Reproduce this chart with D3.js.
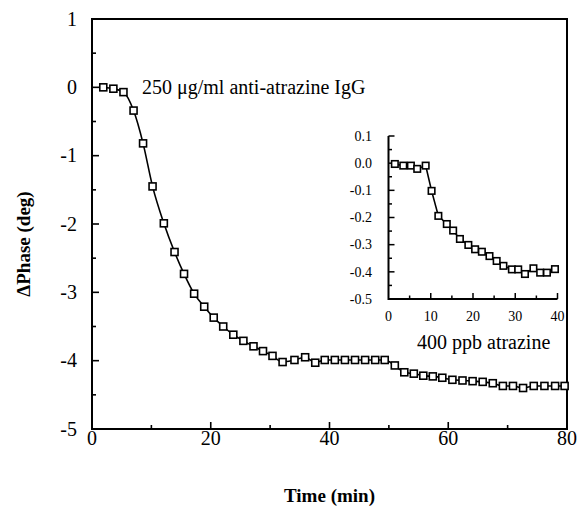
<!DOCTYPE html>
<html>
<head>
<meta charset="utf-8">
<script src="https://cdn.jsdelivr.net/npm/d3@7"></script>
<style>
  html, body { margin: 0; padding: 0; background: #fff; }
  svg { display: block; }
  text { font-family: "Liberation Serif", "Times New Roman", serif; fill: #000; }
</style>
</head>
<body>
<svg id="chart" width="586" height="506"></svg>
<script>
// Main series: time (min) and phase change (deg)
const mainTime = [1.9, 3.6, 5.3, 7.0, 8.6, 10.2, 12.1, 13.9, 15.5, 17.2, 18.9, 20.5, 22.1, 23.8, 25.5, 27.2, 28.8, 30.4, 32.1, 34.1, 35.9, 37.6, 39.2, 40.9, 42.6, 44.3, 46.0, 47.7, 49.3, 51.0, 52.6, 54.2, 55.8, 57.4, 59.0, 60.7, 62.4, 64.1, 65.8, 67.5, 69.2, 70.9, 72.6, 74.4, 76.2, 78.0, 79.6];
const mainPhase = [0.00, -0.02, -0.07, -0.34, -0.82, -1.45, -1.99, -2.41, -2.73, -3.02, -3.21, -3.37, -3.50, -3.62, -3.71, -3.79, -3.86, -3.93, -4.02, -3.99, -3.95, -4.03, -3.99, -3.99, -3.99, -3.99, -3.99, -3.99, -3.99, -4.07, -4.17, -4.19, -4.22, -4.23, -4.25, -4.28, -4.29, -4.30, -4.31, -4.33, -4.37, -4.37, -4.40, -4.37, -4.37, -4.37, -4.37];

// Inset series
const insetTime = [1.5, 3.5, 5.3, 6.8, 8.8, 10.2, 11.8, 13.8, 15.3, 16.9, 18.9, 20.5, 22.1, 23.9, 25.6, 27.2, 29.2, 30.7, 32.3, 34.3, 35.9, 37.5, 39.4];
const insetPhase = [-0.003, -0.009, -0.009, -0.021, -0.009, -0.102, -0.194, -0.224, -0.248, -0.279, -0.301, -0.317, -0.326, -0.342, -0.360, -0.378, -0.391, -0.391, -0.408, -0.387, -0.403, -0.403, -0.390];

// Tick labels
const mainXTicks = [0, 20, 40, 60, 80];
const mainYTicks = [1, 0, -1, -2, -3, -4, -5];
const insetXTicks = [0, 10, 20, 30, 40];
const insetYTicks = [0.1, 0.0, -0.1, -0.2, -0.3, -0.4, -0.5];
const insetYLabels = ["0.1", "0.0", "-0.1", "-0.2", "-0.3", "-0.4", "-0.5"];

const annotationMain = "250 \u03BCg/ml anti-atrazine IgG";
const annotationInset = "400 ppb atrazine";
const xTitle = "Time (min)";
const yTitle = "\u0394Phase (deg)";

const svg = d3.select("#chart");

// ---------- Main plot ----------
const x = d3.scaleLinear().domain([0, 80]).range([92, 567]);
const y = d3.scaleLinear().domain([-5, 1]).range([429, 19]);

// frame
svg.append("rect")
  .attr("x", x(0)).attr("y", y(1))
  .attr("width", x(80) - x(0)).attr("height", y(-5) - y(1))
  .attr("fill", "none").attr("stroke", "#000").attr("stroke-width", 2);

// inward ticks
const xMajor = d3.range(0, 81, 20), xMinor = d3.range(10, 80, 20);
const yMajor = d3.range(-5, 1.01, 1), yMinor = d3.range(-4.5, 1, 1);
const tg = svg.append("g").attr("stroke", "#000").attr("stroke-width", 1.6);
xMajor.filter(v => v > 0 && v < 80).forEach(v => tg.append("line").attr("x1", x(v)).attr("x2", x(v)).attr("y1", y(-5)).attr("y2", y(-5) - 7));
xMinor.forEach(v => tg.append("line").attr("x1", x(v)).attr("x2", x(v)).attr("y1", y(-5)).attr("y2", y(-5) - 4));
yMajor.filter(v => v > -5 && v < 1).forEach(v => tg.append("line").attr("x1", x(0)).attr("x2", x(0) + 7).attr("y1", y(v)).attr("y2", y(v)));
yMinor.forEach(v => tg.append("line").attr("x1", x(0)).attr("x2", x(0) + 4).attr("y1", y(v)).attr("y2", y(v)));

// tick labels
svg.append("g").selectAll("text").data(mainXTicks).join("text")
  .attr("x", d => x(d)).attr("y", 445)
  .attr("text-anchor", "middle").attr("font-size", 20).text(d => d);
svg.append("g").selectAll("text").data(mainYTicks).join("text")
  .attr("x", 77).attr("y", d => y(d)).attr("dy", "0.34em")
  .attr("text-anchor", "end").attr("font-size", 20).text(d => (d < 0 ? "-" + Math.abs(d) : d));

// titles
svg.append("text").attr("x", (x(0) + x(80)) / 2).attr("y", 502)
  .attr("text-anchor", "middle").attr("font-size", 19).attr("font-weight", "bold").text(xTitle);
svg.append("text").attr("transform", "translate(30,244) rotate(-90)")
  .attr("text-anchor", "middle").attr("font-size", 19).attr("font-weight", "bold").text(yTitle);

// annotation
svg.append("text").attr("x", 142).attr("y", 94).attr("font-size", 20).text(annotationMain);

// data
const mainData = mainTime.map((t, i) => [t, mainPhase[i]]);
svg.append("path").datum(mainData)
  .attr("fill", "none").attr("stroke", "#000").attr("stroke-width", 1.6)
  .attr("d", d3.line().x(d => x(d[0])).y(d => y(d[1])).curve(d3.curveMonotoneX));
const ms = 7;
svg.append("g").selectAll("rect").data(mainData).join("rect")
  .attr("x", d => x(d[0]) - ms / 2).attr("y", d => y(d[1]) - ms / 2)
  .attr("width", ms).attr("height", ms)
  .attr("fill", "#fff").attr("stroke", "#000").attr("stroke-width", 1.6);

// ---------- Inset ----------
const ix = d3.scaleLinear().domain([0, 40]).range([388.5, 557.5]);
const iy = d3.scaleLinear().domain([-0.5, 0.1]).range([299, 136]);

const ig = svg.append("g");
ig.append("path")
  .attr("d", `M${ix(0)},${iy(0.1)}V${iy(-0.5)}H${ix(40)}`)
  .attr("fill", "none").attr("stroke", "#000").attr("stroke-width", 2);
const itg = ig.append("g").attr("stroke", "#000").attr("stroke-width", 1.5);
d3.range(5, 40.1, 5).forEach(v => {
  const len = (v % 10 === 0) ? 6 : 3.5;
  itg.append("line").attr("x1", ix(v)).attr("x2", ix(v)).attr("y1", iy(-0.5)).attr("y2", iy(-0.5) - len);
});
d3.range(-0.45, 0.101, 0.05).forEach(v => {
  const r = Math.round(v * 100);
  const len = (r % 10 === 0) ? 6 : 3.5;
  itg.append("line").attr("x1", ix(0)).attr("x2", ix(0) + len).attr("y1", iy(v)).attr("y2", iy(v));
});
ig.append("g").selectAll("text").data(insetXTicks).join("text")
  .attr("x", d => ix(d)).attr("y", 321)
  .attr("text-anchor", "middle").attr("font-size", 14).text(d => d);
ig.append("g").selectAll("text").data(insetYTicks).join("text")
  .attr("x", 372).attr("y", d => iy(d)).attr("dy", "0.34em")
  .attr("text-anchor", "end").attr("font-size", 14).text((d, i) => insetYLabels[i]);
ig.append("text").attr("x", 417).attr("y", 349).attr("font-size", 20).text(annotationInset);

const insetData = insetTime.map((t, i) => [t, insetPhase[i]]);
ig.append("path").datum(insetData)
  .attr("fill", "none").attr("stroke", "#000").attr("stroke-width", 1.6)
  .attr("d", d3.line().x(d => ix(d[0])).y(d => iy(d[1])));
const is = 6.5;
ig.append("g").selectAll("rect").data(insetData).join("rect")
  .attr("x", d => ix(d[0]) - is / 2).attr("y", d => iy(d[1]) - is / 2)
  .attr("width", is).attr("height", is)
  .attr("fill", "#fff").attr("stroke", "#000").attr("stroke-width", 1.6);
</script>
</body>
</html>
